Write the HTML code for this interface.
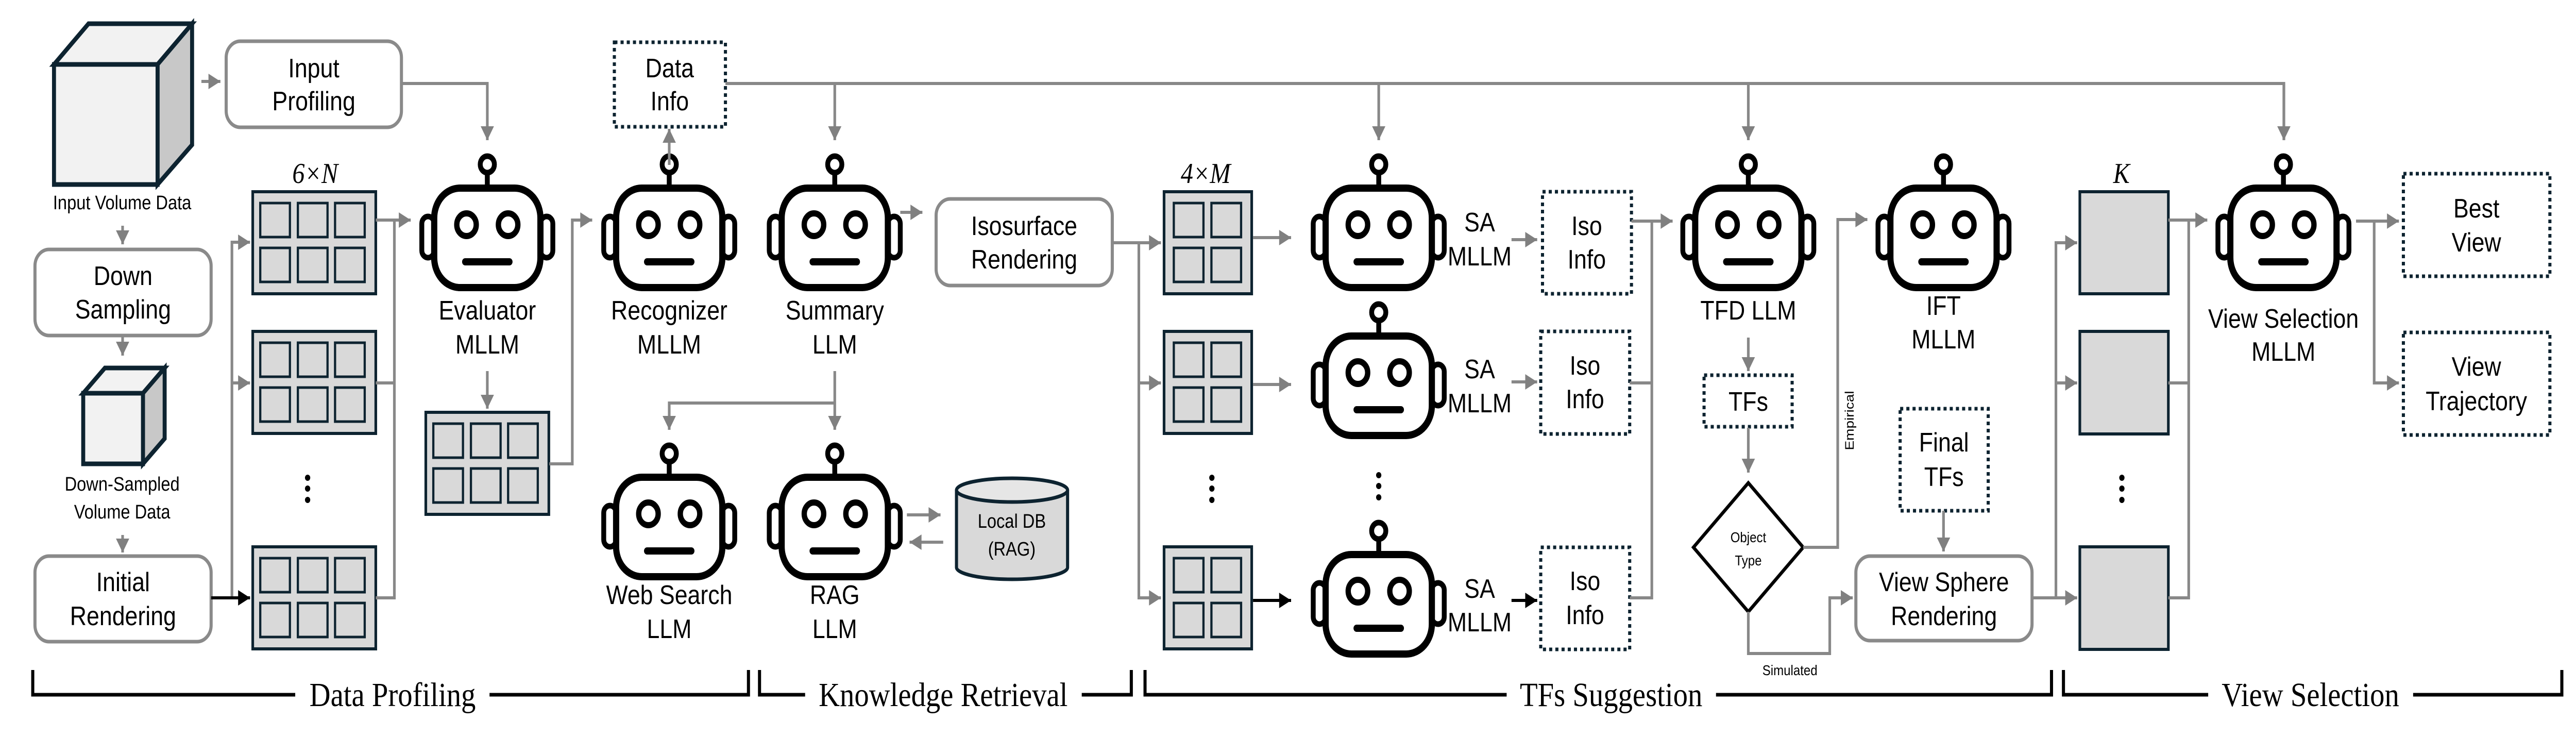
<!DOCTYPE html>
<html><head><meta charset="utf-8"><style>
html,body{margin:0;padding:0;background:#fff;width:100%;height:100%;overflow:hidden}
svg{display:block;width:100vw;height:100vh}
text{font-family:"Liberation Sans",sans-serif;fill:#000}
.l{font-size:52px;text-anchor:middle}
.s{font-size:38px;text-anchor:middle}
.t{font-size:28px;text-anchor:middle}
.h{font-family:"Liberation Serif",serif;font-size:66px;text-anchor:middle}
.m{font-family:"Liberation Serif",serif;font-style:italic;font-size:56px;text-anchor:middle}
.g{stroke:#888;stroke-width:6;fill:none}
.k{stroke:#000;stroke-width:6;fill:none}
.box{fill:#fff;stroke:#8a8a8a;stroke-width:7}
.dot{fill:#fff;stroke:#0d2330;stroke-width:7;stroke-dasharray:7 7}
.pan{fill:#d9d9d9;stroke:#0d2330;stroke-width:6}
.br{stroke:#000;stroke-width:7;fill:none}
</style></head><body>
<svg viewBox="0 0 5820 1430" preserveAspectRatio="none" xmlns="http://www.w3.org/2000/svg" style="overflow:hidden">
<defs>
<marker id="a" markerWidth="8" markerHeight="8" refX="7" refY="4" orient="auto" markerUnits="userSpaceOnUse" viewBox="0 0 8 8" style="overflow:visible">
<path d="M-20,-11 L7,4 L-20,19 Z" fill="#808080"/></marker>
<marker id="ab" markerWidth="8" markerHeight="8" refX="7" refY="4" orient="auto" markerUnits="userSpaceOnUse" viewBox="0 0 8 8" style="overflow:visible">
<path d="M-20,-11 L7,4 L-20,19 Z" fill="#000"/></marker>
<g id="robot" fill="none" stroke="#000" stroke-linecap="round">
<rect x="-120" y="0" width="240" height="193" rx="58" stroke-width="14" fill="#fff"/>
<rect x="-148" y="55" width="28" height="80" rx="14" stroke-width="11"/>
<rect x="120" y="55" width="28" height="80" rx="14" stroke-width="11"/>
<circle cx="0" cy="-46" r="16" stroke-width="11"/>
<line x1="0" y1="-30" x2="0" y2="0" stroke-width="11"/>
<circle cx="-47" cy="71" r="22" stroke-width="12"/>
<circle cx="47" cy="71" r="22" stroke-width="12"/>
<line x1="-50" y1="143" x2="50" y2="143" stroke-width="14"/>
</g>
<g id="p6">
<rect x="0" y="0" width="278" height="198" class="pan"/>
<g fill="#d9d9d9" stroke="#0d2330" stroke-width="5">
<rect x="17" y="22" width="67" height="66"/><rect x="102" y="22" width="67" height="66"/><rect x="186" y="22" width="67" height="66"/>
<rect x="17" y="109" width="67" height="66"/><rect x="102" y="109" width="67" height="66"/><rect x="186" y="109" width="67" height="66"/>
</g></g>
<g id="p4">
<rect x="0" y="0" width="198" height="198" class="pan"/>
<g fill="#d9d9d9" stroke="#0d2330" stroke-width="5">
<rect x="22" y="22" width="67" height="66"/><rect x="107" y="22" width="67" height="66"/>
<rect x="22" y="109" width="67" height="66"/><rect x="107" y="109" width="67" height="66"/>
</g></g>
</defs>

<g stroke="#0d2330" stroke-width="9" stroke-linejoin="miter">
<polygon points="122,125 200,46 434,46 356,125" fill="#f2f2f2"/>
<polygon points="356,125 434,46 434,281 356,358" fill="#c8c8c8"/>
<rect x="122" y="125" width="234" height="233" fill="#f2f2f2"/>
<polygon points="188,763 237,714 372,714 323,763" fill="#f2f2f2"/>
<polygon points="323,763 372,714 372,851 323,900" fill="#c8c8c8"/>
<rect x="188" y="763" width="135" height="137" fill="#f2f2f2"/>
</g>
<text class="s" x="276" y="406">Input Volume Data</text>
<text class="s" x="276" y="952">Down-Sampled</text>
<text class="s" x="276" y="1006">Volume Data</text>

<rect class="box" x="511" y="80" width="396" height="167" rx="32"/>
<text class="l" x="709" y="150">Input</text><text class="l" x="709" y="214">Profiling</text>
<rect class="box" x="79" y="484" width="398" height="167" rx="32"/>
<text class="l" x="278" y="553">Down</text><text class="l" x="278" y="618">Sampling</text>
<rect class="box" x="79" y="1079" width="398" height="166" rx="32"/>
<text class="l" x="278" y="1147">Initial</text><text class="l" x="278" y="1213">Rendering</text>
<rect class="dot" x="1388" y="82" width="251" height="164"/>
<text class="l" x="1513" y="150">Data</text><text class="l" x="1513" y="214">Info</text>
<rect class="box" x="2115" y="386" width="398" height="168" rx="32"/>
<text class="l" x="2314" y="456">Isosurface</text><text class="l" x="2314" y="521">Rendering</text>

<g stroke="#0d2330" stroke-width="7" fill="#d9d9d9">
<path d="M2161,951 L2161,1101 A125.5,23 0 0 0 2412,1101 L2412,951"/>
<ellipse cx="2286.5" cy="951" rx="125.5" ry="23" fill="#e6e6e6"/>
</g>
<text class="s" x="2286" y="1024">Local DB</text><text class="s" x="2286" y="1078">(RAG)</text>

<use href="#p6" x="571" y="372"/><use href="#p6" x="571" y="643"/><use href="#p6" x="571" y="1061"/>
<use href="#p6" x="962" y="800"/>
<use href="#p4" x="2630" y="372"/><use href="#p4" x="2630" y="643"/><use href="#p4" x="2630" y="1061"/>
<rect class="pan" x="4699" y="372" width="200" height="198"/>
<rect class="pan" x="4699" y="643" width="200" height="199"/>
<rect class="pan" x="4699" y="1061" width="200" height="199"/>
<text class="m" x="712" y="355">6×N</text>
<text class="m" x="2724" y="355">4×M</text>
<text class="m" x="4793" y="355">K</text>

<g fill="#000">
<circle cx="695" cy="927" r="6"/><circle cx="695" cy="948" r="6"/><circle cx="695" cy="970" r="6"/>
<circle cx="2738" cy="927" r="6"/><circle cx="2738" cy="948" r="6"/><circle cx="2738" cy="970" r="6"/>
<circle cx="3115" cy="922" r="6"/><circle cx="3115" cy="943" r="6"/><circle cx="3115" cy="965" r="6"/>
<circle cx="4794" cy="927" r="6"/><circle cx="4794" cy="948" r="6"/><circle cx="4794" cy="970" r="6"/>
</g>

<use href="#robot" x="1101" y="365"/><use href="#robot" x="1512" y="365"/><use href="#robot" x="1886" y="365"/>
<use href="#robot" x="1512" y="926"/><use href="#robot" x="1886" y="926"/>
<use href="#robot" x="3115" y="365"/><use href="#robot" x="3115" y="652"/><use href="#robot" x="3115" y="1076"/>
<use href="#robot" x="3950" y="365"/><use href="#robot" x="4391" y="365"/><use href="#robot" x="5159" y="365"/>
<text class="l" x="1101" y="620">Evaluator</text><text class="l" x="1101" y="686">MLLM</text>
<text class="l" x="1512" y="620">Recognizer</text><text class="l" x="1512" y="686">MLLM</text>
<text class="l" x="1886" y="620">Summary</text><text class="l" x="1886" y="686">LLM</text>
<text class="l" x="1512" y="1172">Web Search</text><text class="l" x="1512" y="1238">LLM</text>
<text class="l" x="1886" y="1172">RAG</text><text class="l" x="1886" y="1238">LLM</text>
<text class="l" x="3343" y="449">SA</text><text class="l" x="3343" y="515">MLLM</text>
<text class="l" x="3343" y="734">SA</text><text class="l" x="3343" y="800">MLLM</text>
<text class="l" x="3343" y="1160">SA</text><text class="l" x="3343" y="1225">MLLM</text>
<text class="l" x="3950" y="620">TFD LLM</text>
<text class="l" x="4391" y="611">IFT</text><text class="l" x="4391" y="676">MLLM</text>
<text class="l" x="5159" y="636">View Selection</text><text class="l" x="5159" y="700">MLLM</text>

<rect class="dot" x="3485" y="372" width="201" height="198"/>
<text class="l" x="3585" y="456">Iso</text><text class="l" x="3585" y="521">Info</text>
<rect class="dot" x="3481" y="643" width="201" height="199"/>
<text class="l" x="3581" y="727">Iso</text><text class="l" x="3581" y="792">Info</text>
<rect class="dot" x="3481" y="1062" width="201" height="198"/>
<text class="l" x="3581" y="1145">Iso</text><text class="l" x="3581" y="1211">Info</text>
<rect class="dot" x="3850" y="728" width="199" height="100"/>
<text class="l" x="3950" y="797">TFs</text>
<polygon points="3950,937 4074,1062 3950,1187 3826,1062" fill="#fff" stroke="#000" stroke-width="7"/>
<text class="t" x="3950" y="1052">Object</text><text class="t" x="3950" y="1097">Type</text>
<text class="t" transform="translate(4188,816) rotate(-90)">Empirical</text>
<text class="t" x="4044" y="1310">Simulated</text>
<rect class="dot" x="4293" y="793" width="199" height="198"/>
<text class="l" x="4392" y="876">Final</text><text class="l" x="4392" y="943">TFs</text>
<rect class="box" x="4193" y="1079" width="398" height="164" rx="32"/>
<text class="l" x="4392" y="1147">View Sphere</text><text class="l" x="4392" y="1213">Rendering</text>
<rect class="dot" x="5430" y="337" width="331" height="199"/>
<text class="l" x="5595" y="422">Best</text><text class="l" x="5595" y="488">View</text>
<rect class="dot" x="5430" y="645" width="331" height="199"/>
<text class="l" x="5595" y="729">View</text><text class="l" x="5595" y="796">Trajectory</text>

<g class="g">
<path d="M455,158 H498" marker-end="url(#a)"/>
<path d="M907,162 H1101 V272" marker-end="url(#a)"/>
<path d="M1639,162 H5160 V272"/>
<path d="M5160,162 V272" marker-end="url(#a)"/>
<path d="M1886,162 V272" marker-end="url(#a)"/>
<path d="M3115,162 V272" marker-end="url(#a)"/>
<path d="M3950,162 V272" marker-end="url(#a)"/>
<path d="M1512,320 V250" marker-end="url(#a)"/>
<path d="M277,438 V474" marker-end="url(#a)"/>
<path d="M277,653 V690" marker-end="url(#a)"/>
<path d="M277,1038 V1072" marker-end="url(#a)"/>
<path d="M524,1160 V470 H565" marker-end="url(#a)"/>
<path d="M524,743 H565" marker-end="url(#a)"/>
<path d="M849,427 H928" marker-end="url(#a)"/>
<path d="M849,743 H891 M849,1160 H891 V427"/>
<path d="M1101,720 V793" marker-end="url(#a)"/>
<path d="M1241,900 H1293 V427 H1338" marker-end="url(#a)"/>
<path d="M1886,720 V834" marker-end="url(#a)"/>
<path d="M1886,782 H1512 V834" marker-end="url(#a)"/>
<path d="M2034,412 H2084" marker-end="url(#a)"/>
<path d="M2049,999 H2125" marker-end="url(#a)"/>
<path d="M2131,1052 H2055" marker-end="url(#a)"/>
<path d="M2513,471 H2623" marker-end="url(#a)"/>
<path d="M2573,471 V1160 H2623" marker-end="url(#a)"/>
<path d="M2573,743 H2623" marker-end="url(#a)"/>
<path d="M2831,461 H2917" marker-end="url(#a)"/>
<path d="M2831,746 H2917" marker-end="url(#a)"/>
<path d="M3415,465 H3473" marker-end="url(#a)"/>
<path d="M3415,741 H3473" marker-end="url(#a)"/>
<path d="M3686,429 H3779" marker-end="url(#a)"/>
<path d="M3682,743 H3732 M3682,1160 H3732 V429"/>
<path d="M3950,655 V720" marker-end="url(#a)"/>
<path d="M3950,830 V917" marker-end="url(#a)"/>
<path d="M4074,1062 H4152 V426 H4219" marker-end="url(#a)"/>
<path d="M3950,1187 V1268 H4134 V1160 H4186" marker-end="url(#a)"/>
<path d="M4391,991 V1070" marker-end="url(#a)"/>
<path d="M4591,1160 H4693" marker-end="url(#a)"/>
<path d="M4645,1160 V471 H4693" marker-end="url(#a)"/>
<path d="M4645,743 H4693" marker-end="url(#a)"/>
<path d="M4899,427 H4987" marker-end="url(#a)"/>
<path d="M4899,743 H4945 M4899,1160 H4945 V427"/>
<path d="M5323,429 H5420" marker-end="url(#a)"/>
<path d="M5364,429 V743 H5420" marker-end="url(#a)"/>
</g>
<g class="k">
<path d="M477,1160 H565" marker-end="url(#ab)"/>
<path d="M2831,1165 H2917" marker-end="url(#ab)"/>
<path d="M3415,1165 H3473" marker-end="url(#ab)"/>
</g>

<g class="br">
<path d="M74,1300 V1348 H667"/><path d="M1106,1348 H1691 V1300"/>
<path d="M1716,1300 V1348 H1819"/><path d="M2444,1348 H2556 V1300"/>
<path d="M2587,1300 V1348 H3404"/><path d="M3877,1348 H4635 V1300"/>
<path d="M4662,1300 V1348 H4989"/><path d="M5452,1348 H5788 V1300"/>
</g>
<text class="h" x="887" y="1370">Data Profiling</text>
<text class="h" x="2131" y="1370">Knowledge Retrieval</text>
<text class="h" x="3640" y="1370">TFs Suggestion</text>
<text class="h" x="5220" y="1370">View Selection</text>
</svg>
</body></html>
